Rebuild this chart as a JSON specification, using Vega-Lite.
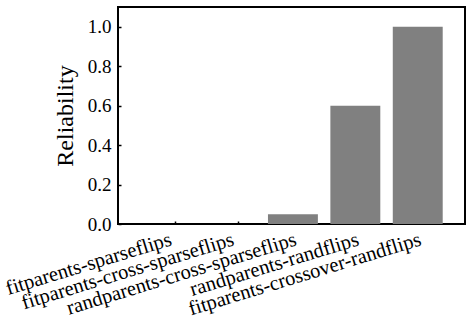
{
  "$schema": "https://vega.github.io/schema/vega-lite/v6.json",
  "autosize": "none",
  "padding": {"left": 118, "top": 7, "right": 3, "bottom": 106},
  "width": 347,
  "height": 217,
  "background": "white",
  "config": {
    "view": {"stroke": "black", "strokeWidth": 2},
    "font": "Liberation Serif"
  },
  "data": {
    "values": [
      {"method": "fitparents-sparseflips", "reliability": 0.0},
      {"method": "fitparents-cross-sparseflips", "reliability": 0.0},
      {"method": "randparents-cross-sparseflips", "reliability": 0.05},
      {"method": "randparents-randflips", "reliability": 0.6},
      {"method": "fitparents-crossover-randflips", "reliability": 1.0}
    ]
  },
  "mark": {"type": "bar", "color": "#808080"},
  "encoding": {
    "x": {
      "field": "method",
      "type": "nominal",
      "sort": null,
      "scale": {"paddingInner": 0.2, "paddingOuter": 0.38, "align": 0.53},
      "axis": {
        "title": null,
        "domain": false,
        "grid": false,
        "bandPosition": 0.65,
        "ticks": true,
        "tickSize": -3,
        "tickWidth": 1.5,
        "tickColor": "black",
        "labelAngle": -17,
        "labelAlign": "right",
        "labelBaseline": "top",
        "labelPadding": 8,
        "labelLimit": 0,
        "labelFont": "Liberation Serif",
        "labelFontSize": 20.5,
        "labelColor": "black"
      }
    },
    "y": {
      "field": "reliability",
      "type": "quantitative",
      "scale": {"domain": [0, 1.1], "nice": false, "zero": true},
      "axis": {
        "title": "Reliability",
        "titleFont": "Liberation Serif",
        "titleFontSize": 24,
        "titleFontWeight": "normal",
        "titleColor": "black",
        "titlePadding": 10,
        "values": [0, 0.2, 0.4, 0.6, 0.8, 1.0],
        "format": ".1f",
        "domain": false,
        "grid": false,
        "tickSize": -3,
        "tickWidth": 1.5,
        "tickColor": "black",
        "labelPadding": 10,
        "labelFont": "Liberation Serif",
        "labelFontSize": 19,
        "labelColor": "black"
      }
    }
  }
}
